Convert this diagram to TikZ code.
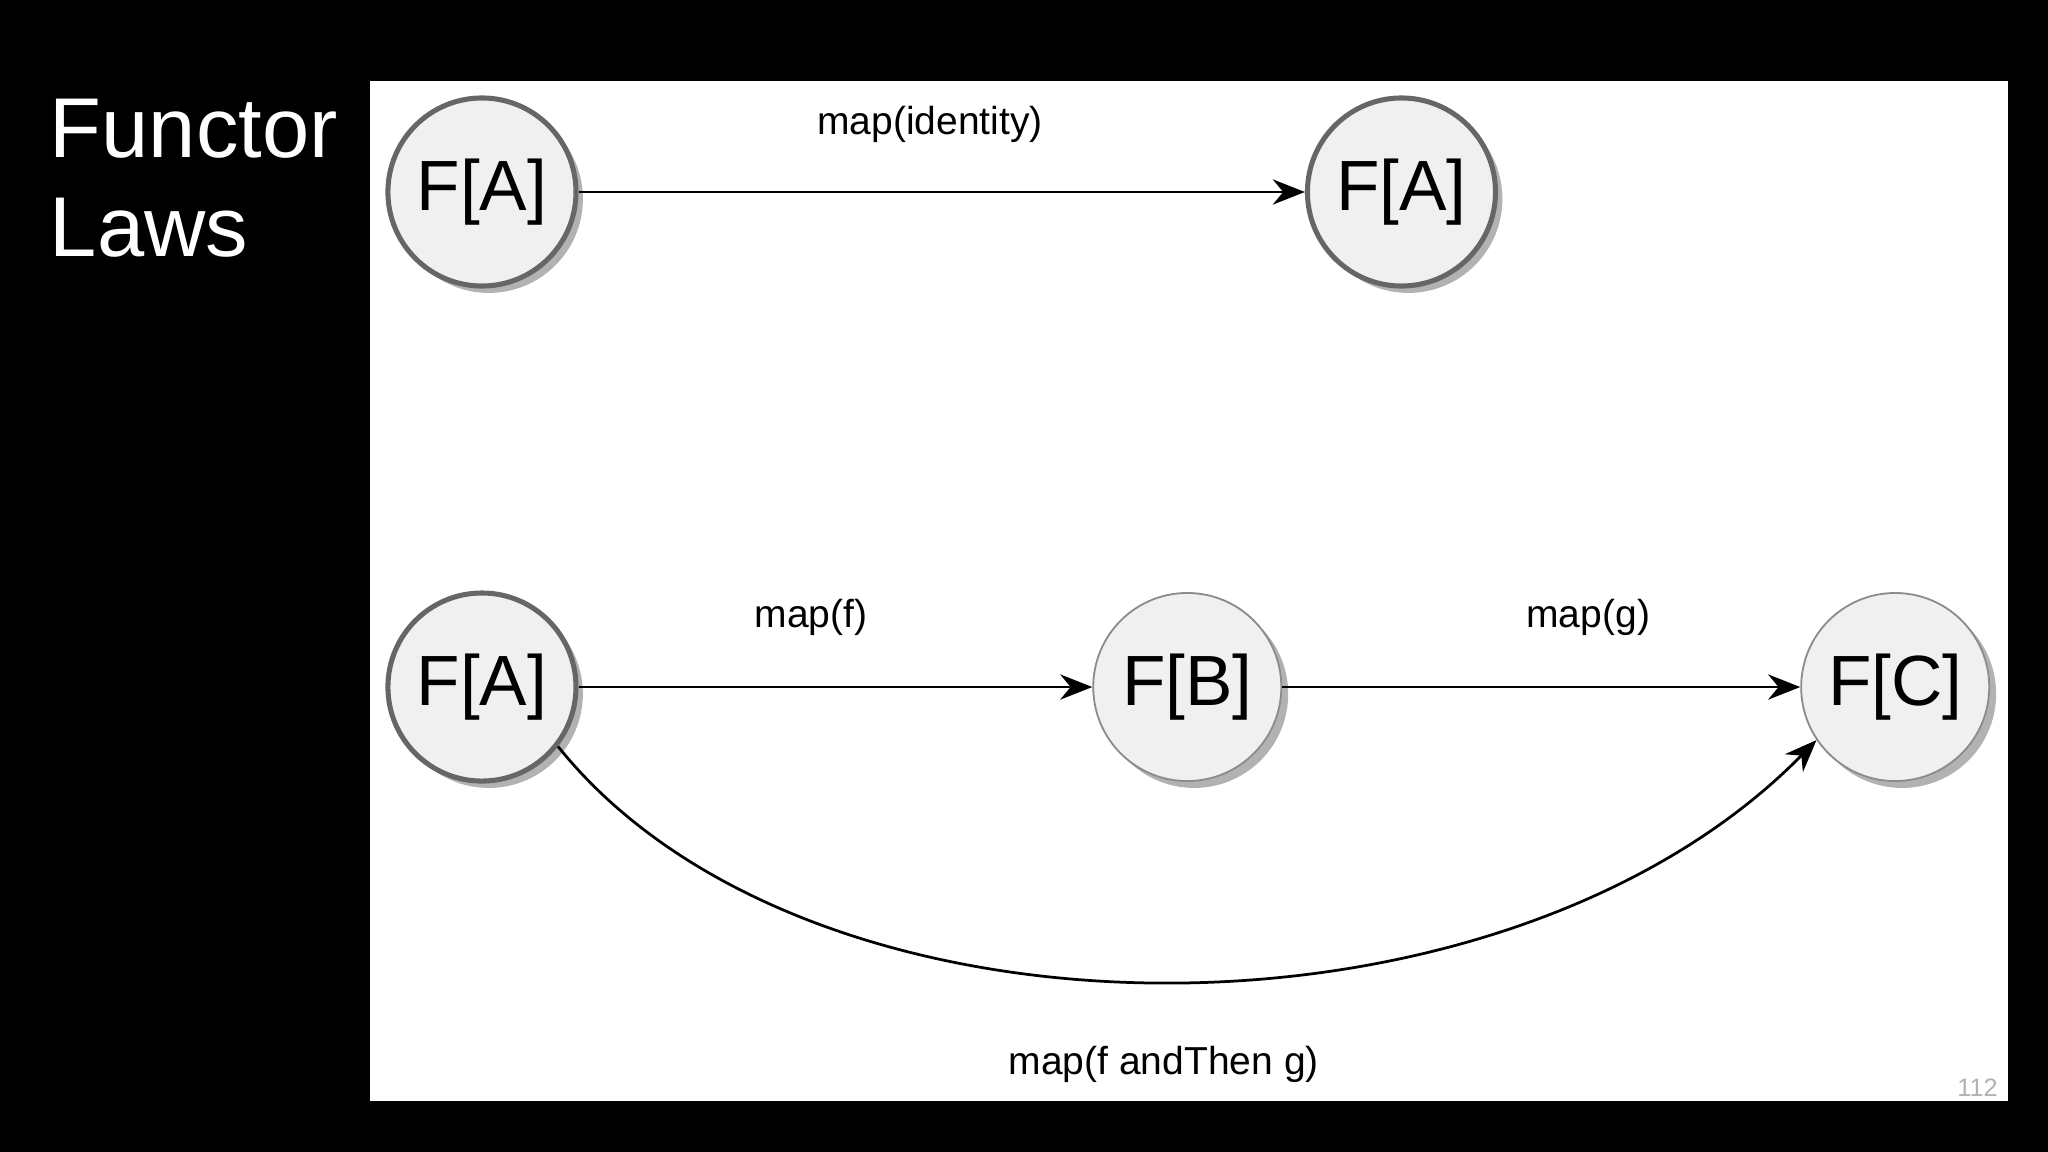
\documentclass[tikz,border=0pt]{standalone}
\usepackage{fontspec}
\setmainfont{Liberation Sans}
\usetikzlibrary{shadows,arrows.meta}
\begin{document}
\begin{tikzpicture}[x=0.02cm,y=-0.02cm,
  st/.style={circle,minimum size=144*0.02cm,inner sep=0pt,fill=gray!12,font=\fontsize{31}{36}\selectfont,
    drop shadow={shadow xshift=3pt,shadow yshift=-3pt,fill=black,opacity=0.3}},
  thick st/.style={st,draw=black!60,line width=2.2pt},
  thin st/.style={st,draw=black!45,line width=0.8pt},
  arr/.style={-{Stealth[length=14pt,width=11pt]},line width=1.2pt},
  lbl/.style={font=\fontsize{17}{20}\selectfont}]
\fill[black] (0,0) rectangle (1568,882);
\fill[white] (283,62) rectangle (1537,843);
\node[anchor=north west,text=white,align=left,font=\fontsize{37}{43}\selectfont] (title) at (32,70) {Functor\\Laws};
\node[thick st] (a1) at (369,147) {F[A]};
\node[thick st] (a2) at (1073,147) {F[A]};
\node[thick st] (a3) at (369,526) {F[A]};
\node[thin st] (b) at (909,526) {F[B]};
\node[thin st] (c) at (1451,526) {F[C]};
\draw[arr] (a1) -- (a2);
\draw[arr] (a3) -- (b);
\draw[arr] (b) -- (c);
\draw[arr] (a3.-38) .. controls (620,812) and (1150,812) .. (c.-146);
\node[lbl] (l1) at (712,95) {map(identity)};
\node[lbl] (l2) at (621,473) {map(f)};
\node[lbl] (l3) at (1216,473) {map(g)};
\node[lbl] (l4) at (891,815) {map(f andThen g)};
\node[text=gray!60,font=\fontsize{11}{13}\selectfont] (pg) at (1514,833) {112};
\end{tikzpicture}
\end{document}
